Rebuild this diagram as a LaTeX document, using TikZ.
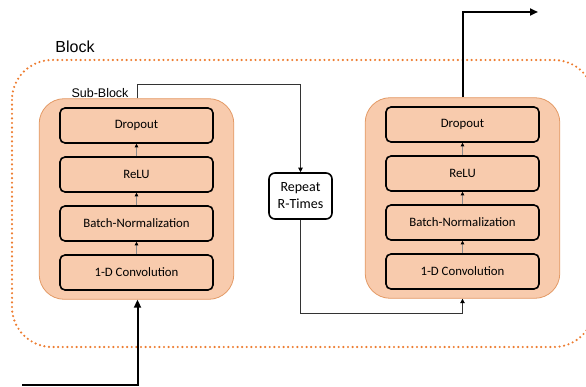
\documentclass[tikz,border=0pt]{standalone}
\usepackage{fontspec}
\setmainfont{Carlito}
\newfontfamily\labelfont{Liberation Sans}
\usetikzlibrary{positioning,fit,backgrounds,arrows.meta}
\definecolor{peach}{HTML}{F8CBAD}
\definecolor{peachline}{HTML}{E39A66}
\definecolor{dotorange}{HTML}{ED7D31}

\begin{document}
\begin{tikzpicture}[x=1pt,y=-1pt,
       layer/.style={draw=black,line width=1.6pt,fill=peach,rounded corners=5pt,
       minimum width=153pt,minimum height=35pt,inner sep=0pt,font=\fontsize{12.8}{14}\selectfont},
       sub block/.style={draw=peachline,line width=0.8pt,fill=peach,rounded corners=25pt,
       inner xsep=20pt,inner ysep=8.5pt},
       node distance=12.4pt]

    \tikzstyle{flow}=[draw=black!45,line width=0.6pt,-{Triangle[color=black,length=3.5pt,width=3.5pt]}]
    \tikzstyle{thin arrow}=[draw=black!80,line width=0.9pt,-{Triangle[color=black,length=4.5pt,width=4.5pt]}]
    \tikzstyle{thick arrow}=[draw=black,line width=2pt,-{Triangle[length=8pt,width=7pt]}]
    \tikzstyle{lbl}=[inner sep=0pt,font=\labelfont]

    \useasboundingbox (0,0) rectangle (586,387);

    % outer block
    \draw[dotorange,line width=2.4pt,dash pattern=on 0pt off 4.6pt,line cap=round,
      rounded corners=40pt] (12,60) rectangle (594,347);
    \node[lbl,font=\labelfont\fontsize{16}{18}\selectfont] (blocklbl) at (75,47) {Block};

    % first sub-block
    \node[layer] (conv1) at (136.5,272.5) {1-D Convolution};
    \node[layer,above=of conv1] (bn1) {Batch-Normalization};
    \node[layer,above=of bn1] (relu1) {ReLU};
    \node[layer,above=of relu1] (drop1) {Dropout};

    % last sub-block
    \node[layer] (conv2) at (462.5,271.5) {1-D Convolution};
    \node[layer,above=of conv2] (bn2) {Batch-Normalization};
    \node[layer,above=of bn2] (relu2) {ReLU};
    \node[layer,above=of relu2] (drop2) {Dropout};

    \begin{scope}[on background layer]
        \node[sub block,fit=(conv1)(drop1)] (sub1) {};
        \node[sub block,fit=(conv2)(drop2)] (sub2) {};
    \end{scope}
    \node[lbl,font=\labelfont\fontsize{12.5}{14}\selectfont] (sublbl) at (100,93) {Sub-Block};

    \node[draw=black,line width=1.6pt,rounded corners=6pt,align=center,minimum width=63pt,
      minimum height=46pt,inner sep=0pt,font=\fontsize{14}{17}\selectfont] (rep) at (300.5,196) {Repeat\\R-Times};

    \coordinate (in) at (22,385);
    \coordinate (out) at (538,12);

    \foreach \from/\to in {conv1/bn1,bn1/relu1,relu1/drop1,conv2/bn2,bn2/relu2,relu2/drop2}
        \draw[flow] (\from) -- (\to);

    \draw[thin arrow] ([xshift=1pt]sub1.north) -- ++(0,-14) -| (rep.north);
    \draw[thin arrow] (rep.south) -- ++(0,93.5) -| (sub2.south);
    \draw[thick arrow] (in) -| ([xshift=1pt]sub1.south);
    \draw[thick arrow] (sub2.north) |- (out);

\end{tikzpicture}
\end{document}
